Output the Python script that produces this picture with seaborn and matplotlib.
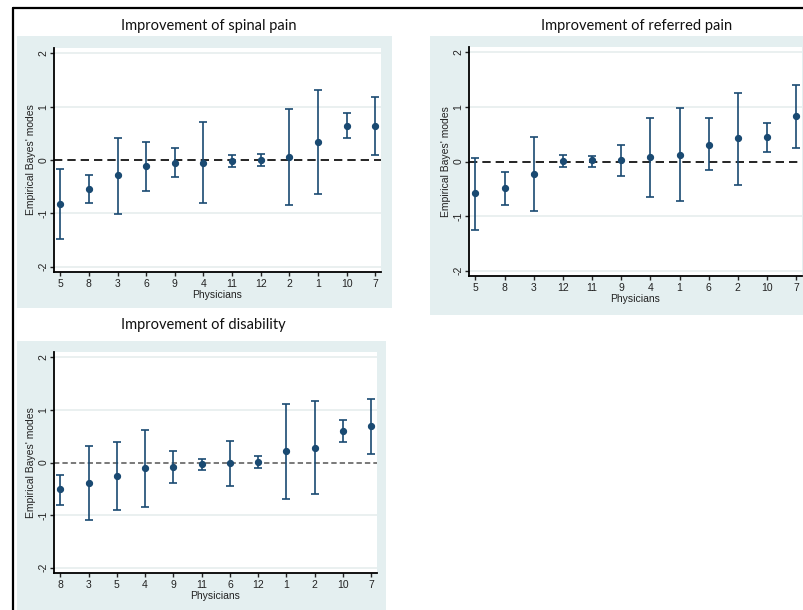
import numpy as np
import pandas as pd
import matplotlib
matplotlib.use("Agg")
import matplotlib.pyplot as plt
from matplotlib.patches import Rectangle
from matplotlib.lines import Line2D
import seaborn as sns

# -------------------------
# Data
# -------------------------
spinal_order = ["5", "8", "3", "6", "9", "4", "11", "12", "2", "1", "10", "7"]
spinal_mode = [-0.83, -0.54, -0.29, -0.11, -0.05, -0.05, -0.02, 0.005, 0.06, 0.33, 0.64, 0.64]
spinal_lo = [-1.49, -0.81, -1.02, -0.575, -0.325, -0.81, -0.125, -0.11, -0.85, -0.645, 0.41, 0.09]
spinal_hi = [-0.175, -0.275, 0.42, 0.33, 0.22, 0.71, 0.09, 0.105, 0.96, 1.31, 0.875, 1.19]

referred_order = ["5", "8", "3", "12", "11", "9", "4", "1", "6", "2", "10", "7"]
referred_mode = [-0.58, -0.49, -0.225, 0.006, 0.02, 0.02, 0.085, 0.128, 0.305, 0.427, 0.457, 0.83]
referred_lo = [-1.26, -0.80, -0.915, -0.11, -0.11, -0.27, -0.65, -0.73, -0.165, -0.44, 0.18, 0.24]
referred_hi = [0.073, -0.20, 0.457, 0.116, 0.10, 0.31, 0.80, 0.99, 0.79, 1.26, 0.71, 1.41]

disab_order = ["8", "3", "5", "4", "9", "11", "6", "12", "1", "2", "10", "7"]
disab_mode = [-0.51, -0.39, -0.25, -0.11, -0.08, -0.025, -0.006, 0.013, 0.22, 0.27, 0.60, 0.69]
disab_lo = [-0.81, -1.10, -0.91, -0.85, -0.39, -0.146, -0.45, -0.11, -0.70, -0.60, 0.39, 0.16]
disab_hi = [-0.24, 0.31, 0.39, 0.61, 0.22, 0.076, 0.41, 0.12, 1.12, 1.17, 0.80, 1.21]

y_ticks = [-2, -1, 0, 1, 2]

NAVY = "#1a4a72"
BG = "#e4eff0"
GRID = "#e6eeee"

sns.set_theme(style="white")
plt.rcParams['font.family'] = ['Liberation Sans', 'DejaVu Sans']

W, H = 804, 610
fig = plt.figure(figsize=(W / 100, H / 100), dpi=100)
fig.patch.set_facecolor("white")


def px_rect(x0, y0, x1, y1):
    # pixel box (top-left origin) -> figure fraction [left, bottom, width, height]
    return [x0 / W, 1 - y1 / H, (x1 - x0) / W, (y1 - y0) / H]


# panel backgrounds (drawn below the axes)
for x0, y0, x1, y1 in [(17, 36, 392, 308), (430, 36, 804, 315), (17, 341, 386, 610)]:
    l, b, w, h = px_rect(x0, y0, x1, y1)
    fig.patches.append(Rectangle((l, b), w, h, transform=fig.transFigure,
                                 facecolor=BG, edgecolor="none", zorder=-5))

# outer frame lines
fig.lines.append(Line2D([13 / W, 13 / W], [0, 1 - 8 / H], transform=fig.transFigure,
                        color="black", lw=1.6))
fig.lines.append(Line2D([13 / W, 1], [1 - 8 / H, 1 - 8 / H], transform=fig.transFigure,
                        color="black", lw=1.6))


def draw_panel(box, order, mode, lo, hi, title, title_xy, zero_style):
    ax = fig.add_axes(px_rect(*box), zorder=2)
    ax.set_facecolor("white")
    df = pd.DataFrame({"physician": order, "mode": mode})
    sns.pointplot(data=df, x="physician", y="mode", order=order, ax=ax,
                  linestyle="none", errorbar=None, color=NAVY,
                  markers="o", markersize=3.2)
    mode = np.array(mode)
    ax.errorbar(np.arange(len(order)), mode,
                yerr=[mode - np.array(lo), np.array(hi) - mode],
                fmt="none", ecolor=NAVY, elinewidth=1.2, capsize=2.6,
                capthick=1.2, zorder=2)
    for t in [-2, -1, 1, 2]:
        ax.axhline(t, color=GRID, lw=1.2, zorder=0)
    ax.axhline(0, zorder=1, **zero_style)

    ax.set_xlim(-0.22, 11.2)
    ax.set_ylim(-2.1, 2.1)
    ax.set_yticks(y_ticks)
    ax.set_yticklabels([str(t) for t in y_ticks], rotation=90, va="center")
    ax.tick_params(axis="both", labelsize=7.5, colors="#222222", length=3,
                   width=1, pad=2, direction="out", left=True, bottom=True)
    ax.tick_params(axis="y", pad=1)
    for s in ["top", "right"]:
        ax.spines[s].set_visible(False)
    for s in ["left", "bottom"]:
        ax.spines[s].set_color("black")
        ax.spines[s].set_linewidth(1.3)
    ax.set_xlabel("Physicians", fontsize=7.5, color="#222222", labelpad=1)
    ax.set_ylabel("Empirical Bayes' modes", fontsize=7.5, color="#222222", labelpad=2)
    fig.text(title_xy[0] / W, 1 - title_xy[1] / H, title, ha="center", va="center",
             fontsize=10.5, family=["Lato", "DejaVu Sans"], color="#111111")
    return ax


dash_black = dict(color="black", lw=1.2, linestyle=(0, (5, 3)))
dash_grey = dict(color="#555555", lw=1.1, linestyle=(0, (3.5, 2)))

draw_panel((54, 48, 381, 272), spinal_order, spinal_mode, spinal_lo, spinal_hi,
           "Improvement of spinal pain", (209, 26), dash_black)
draw_panel((469, 47, 802, 276), referred_order, referred_mode, referred_lo, referred_hi,
           "Improvement of referred pain", (637, 26), dash_black)
draw_panel((54, 352, 377, 573), disab_order, disab_mode, disab_lo, disab_hi,
           "Improvement of disability", (203, 325), dash_grey)

fig.savefig("out.png", dpi=100)
